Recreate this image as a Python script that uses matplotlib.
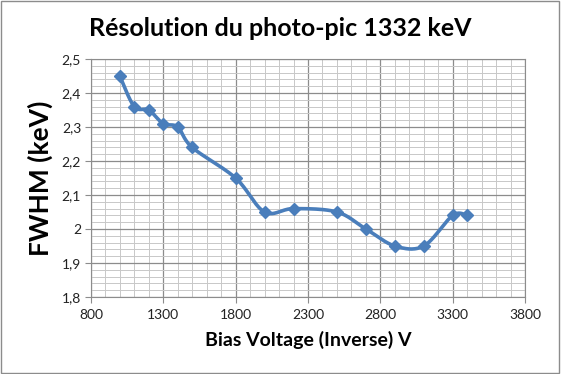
import numpy as np
import matplotlib.pyplot as plt
from matplotlib.ticker import MultipleLocator, FixedLocator, FuncFormatter
from matplotlib.patches import Rectangle

# --- Data ---
voltage = [1000, 1100, 1200, 1300, 1400, 1500, 1800, 2000, 2200, 2500, 2700, 2900, 3100, 3300, 3400]
fwhm = [2.45, 2.36, 2.35, 2.31, 2.30, 2.24, 2.15, 2.05, 2.06, 2.05, 2.00, 1.95, 1.95, 2.04, 2.04]

x_ticks = [800, 1300, 1800, 2300, 2800, 3300, 3800]

title = "Résolution du photo-pic 1332 keV"
xlabel = "Bias Voltage (Inverse) V"
ylabel = "FWHM (keV)"

plt.rcParams['font.family'] = ['Lato', 'DejaVu Sans']


def smooth_curve(x, y, n=30):
    # Bezier smoothing like Excel's "smoothed line", in normalised coordinates
    x = np.asarray(x, float)
    y = np.asarray(y, float)
    sx = (x - x.min()) / (x.max() - x.min())
    sy = (y - y.min()) / (y.max() - y.min())
    px = np.concatenate([[sx[0]], sx, [sx[-1]]])
    py = np.concatenate([[sy[0]], sy, [sy[-1]]])
    out_x, out_y = [], []
    t = np.linspace(0, 1, n)
    for i in range(1, len(px) - 2):
        p0, p1, p2, p3 = (np.array([px[j], py[j]]) for j in range(i - 1, i + 3))
        c1 = p1 + (p2 - p0) / 6
        c2 = p2 - (p3 - p1) / 6
        pts = ((1 - t) ** 3)[:, None] * p1 + (3 * (1 - t) ** 2 * t)[:, None] * c1 \
            + (3 * (1 - t) * t ** 2)[:, None] * c2 + (t ** 3)[:, None] * p2
        out_x.extend(pts[:, 0])
        out_y.extend(pts[:, 1])
    out_x = np.array(out_x) * (x.max() - x.min()) + x.min()
    out_y = np.array(out_y) * (y.max() - y.min()) + y.min()
    return out_x, out_y


def comma_fmt(v, pos):
    s = f"{v:.1f}"
    if s.endswith(".0"):
        s = s[:-2]
    return s.replace('.', ',')


fig = plt.figure(figsize=(5.61, 3.74), dpi=100)
ax = fig.add_axes([0.162, 0.206, 0.774, 0.636])

cx, cy = smooth_curve(voltage, fwhm)
ax.plot(cx, cy, color='#4A7EBB', linewidth=2.6, zorder=3)
ax.plot(voltage, fwhm, linestyle='none', marker='D', markersize=6.5,
        color='#4A7EBB', zorder=4)

ax.set_xlim(800, 3800)
ax.set_ylim(1.8, 2.5)
ax.xaxis.set_major_locator(FixedLocator(x_ticks))
ax.xaxis.set_minor_locator(MultipleLocator(100))
ax.yaxis.set_major_locator(MultipleLocator(0.1))
ax.yaxis.set_minor_locator(MultipleLocator(0.02))
ax.yaxis.set_major_formatter(FuncFormatter(comma_fmt))

ax.grid(which='major', color='#8c8c8c', linewidth=0.9)
ax.grid(which='minor', color='#c8c8c8', linewidth=0.7)
ax.set_axisbelow(True)
for s in ax.spines.values():
    s.set_color('#8c8c8c')
ax.tick_params(which='major', length=4, color='#8c8c8c', labelsize=10,
               labelcolor='#222222', pad=3)
ax.tick_params(which='minor', length=0)
ax.tick_params(axis='x', pad=5)

fig.text(0.5, 0.925, title, fontsize=18, fontweight='bold', ha='center', va='center')
ax.set_xlabel(xlabel, fontsize=14, fontweight='bold', labelpad=7)
ax.set_ylabel(ylabel, fontsize=19, fontweight='bold', labelpad=6)

fig.patches.append(Rectangle((0.002, 0.003), 0.995, 0.994, transform=fig.transFigure,
                             fill=False, edgecolor='#8c8c8c', linewidth=1))

plt.savefig("out.png", dpi=100)
